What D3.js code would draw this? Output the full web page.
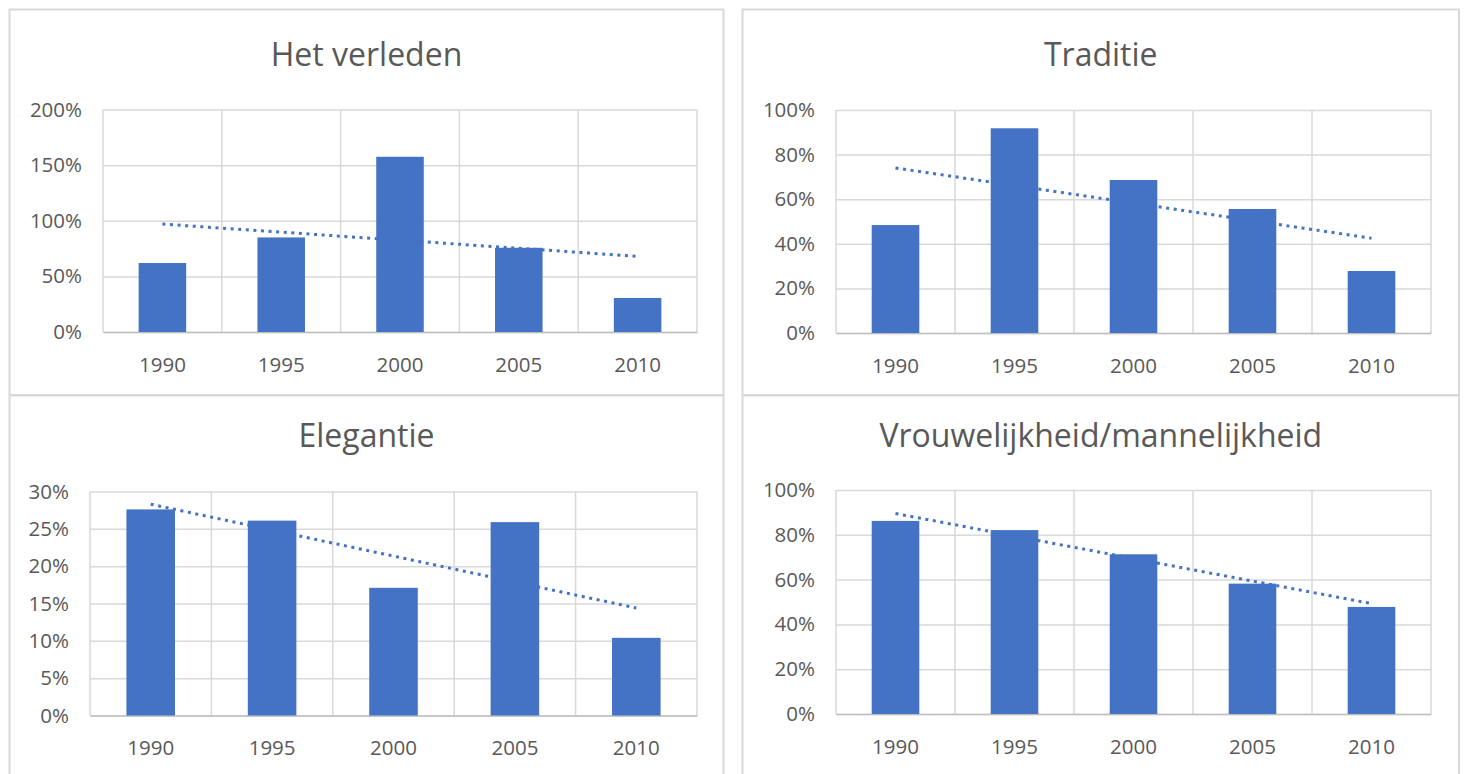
<!DOCTYPE html>
<html>
<head>
<meta charset="utf-8">
<script src="https://cdn.jsdelivr.net/npm/d3@7"></script>
<style>
  body { margin: 0; background: #fff; }
  text { font-family: "Open Sans", sans-serif; fill: #595959; }
</style>
</head>
<body>
<script>
// categories
const years = ["1990", "1995", "2000", "2005", "2010"];

// series values (fractions)
const verleden = [0.62, 0.85, 1.575, 0.757, 0.306];
const traditie = [0.484, 0.918, 0.686, 0.556, 0.278];
const elegantie = [0.276, 0.261, 0.171, 0.259, 0.104];
const vrouwelijkheid = [0.862, 0.821, 0.713, 0.582, 0.478];

// trendline values at first and last year
const verledenTrend = [0.97, 0.68];
const traditieTrend = [0.74, 0.425];
const elegantieTrend = [0.283, 0.144];
const vrouwelijkheidTrend = [0.895, 0.493];

// tick values
const ticks200 = [0, 0.5, 1, 1.5, 2];
const ticks100 = [0, 0.2, 0.4, 0.6, 0.8, 1];
const ticks30 = [0, 0.05, 0.1, 0.15, 0.2, 0.25, 0.3];

const titles = ["Het verleden", "Traditie", "Elegantie", "Vrouwelijkheid/mannelijkheid"];

const width = 1465, height = 774;
const barColor = "#4472C4";
const gridColor = "#D9D9D9";
const pct = d3.format(".0%");

const svg = d3.select("body").append("svg")
    .attr("width", width)
    .attr("height", height);

svg.append("rect").attr("width", width).attr("height", height).attr("fill", "#fff");

// panel layout: box + plot area
const panels = [
  { title: titles[0], values: verleden, trend: verledenTrend, ticks: ticks200,
    box: [9.5, 9.5, 714, 385.5], plot: [103, 109.5, 594, 222.5], titleY: 66 },
  { title: titles[1], values: traditie, trend: traditieTrend, ticks: ticks100,
    box: [742.5, 9.5, 716.5, 385.5], plot: [836, 110, 595, 223], titleY: 66 },
  { title: titles[2], values: elegantie, trend: elegantieTrend, ticks: ticks30,
    box: [9.5, 395.5, 714, 400], plot: [90, 491.5, 607, 224], titleY: 447 },
  { title: titles[3], values: vrouwelijkheid, trend: vrouwelijkheidTrend, ticks: ticks100,
    box: [742.5, 395.5, 716.5, 400], plot: [836, 490, 595, 224], titleY: 447 }
];

panels.forEach(drawPanel);

function drawPanel(p) {
  const [bx, by, bw, bh] = p.box;
  const [px, py, pw, ph] = p.plot;

  svg.append("rect")
      .attr("x", bx).attr("y", by)
      .attr("width", bw).attr("height", bh)
      .attr("fill", "none")
      .attr("stroke", gridColor)
      .attr("stroke-width", 2);

  svg.append("text")
      .attr("x", bx + bw / 2)
      .attr("y", p.titleY)
      .attr("text-anchor", "middle")
      .style("font-size", "32px")
      .text(p.title);

  const g = svg.append("g").attr("transform", `translate(${px},${py})`);

  const x = d3.scaleBand().domain(years).range([0, pw]).padding(0);
  const y = d3.scaleLinear()
      .domain([0, p.ticks[p.ticks.length - 1]])
      .range([ph, 0]);

  // horizontal gridlines + y labels
  const yAxis = g.append("g")
      .call(d3.axisLeft(y)
        .tickValues(p.ticks)
        .tickFormat(pct)
        .tickSize(-pw)
        .tickPadding(21));
  yAxis.select(".domain").remove();
  yAxis.selectAll(".tick line")
      .attr("stroke", gridColor)
      .attr("stroke-width", 1.5);
  yAxis.selectAll(".tick text")
      .style("font-size", "20.5px")
      .attr("fill", "#595959");

  // vertical gridlines at category boundaries
  const bounds = years.map(d => x(d)).concat([pw]);
  g.selectAll(".vgrid")
    .data(bounds)
    .enter()
    .append("line")
      .attr("class", "vgrid")
      .attr("x1", d => d).attr("x2", d => d)
      .attr("y1", 0).attr("y2", ph)
      .attr("stroke", gridColor)
      .attr("stroke-width", 1.5);

  // x axis
  const xAxis = g.append("g")
      .attr("transform", `translate(0,${ph})`)
      .call(d3.axisBottom(x).tickSize(0).tickPadding(25));
  xAxis.select(".domain")
      .attr("stroke", "#BFBFBF")
      .attr("stroke-width", 1.5);
  xAxis.selectAll(".tick text")
      .style("font-size", "20.5px")
      .attr("fill", "#595959");

  // bars
  const barW = x.bandwidth() * 0.4;
  g.selectAll(".bar")
    .data(p.values)
    .enter()
    .append("rect")
      .attr("class", "bar")
      .attr("x", (d, i) => x(years[i]) + (x.bandwidth() - barW) / 2)
      .attr("y", d => y(d))
      .attr("width", barW)
      .attr("height", d => ph - y(d))
      .attr("fill", barColor);

  // dotted linear trendline
  const first = years[0], last = years[years.length - 1];
  g.append("line")
      .attr("x1", x(first) + x.bandwidth() / 2)
      .attr("x2", x(last) + x.bandwidth() / 2)
      .attr("y1", y(p.trend[0]))
      .attr("y2", y(p.trend[1]))
      .attr("stroke", barColor)
      .attr("stroke-width", 3)
      .attr("stroke-dasharray", "3,4.6");
}
</script>
</body>
</html>
